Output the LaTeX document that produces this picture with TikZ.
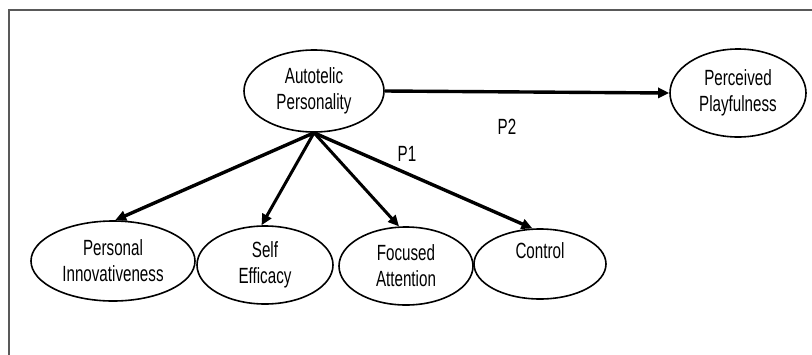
\documentclass[tikz,border=0pt]{standalone}
\usepackage{fontspec}
\setmainfont[FakeStretch=0.69]{Liberation Sans}
\usetikzlibrary{shapes.geometric,arrows.meta}
\tikzset{
  construct/.style={draw, ellipse, line width=1.6pt, inner sep=0pt, align=center,
    font=\fontsize{22}{26}\selectfont},
  path/.style={-{Triangle[length=11pt,width=10pt]}, line width=3.4pt},
  plabel/.style={font=\fontsize{22}{24}\selectfont}
}
\begin{document}
\begin{tikzpicture}[x=1pt, y=-1pt]
\useasboundingbox (0,0) rectangle (812,354);
\draw[line width=2pt, black!65] (9,380) -- (9,10) -- (840,10);
\node[construct, minimum width=140pt, minimum height=82pt] (Auto) at (314,91) {Autotelic\\Personality};
\node[construct, minimum width=136pt, minimum height=88pt] (PP) at (738,93) {Perceived\\Playfulness};
\node[construct, minimum width=164pt, minimum height=80pt] (PI) at (113,261) {Personal\\Innovativeness};
\node[construct, minimum width=136pt, minimum height=78pt] (SE) at (265,265) {Self\\Efficacy};
\node[construct, minimum width=134pt, minimum height=78pt] (FA) at (406,266) {Focused\\Attention};
\node[construct, minimum width=132pt, minimum height=70pt] (Ctrl) at (540,264) {Control\\\phantom{C}};
\draw[path] (Auto.east) -- (PP.west);
\draw[path] (Auto.south) -- (PI.87);
\draw[path, line width=3pt] (Auto.south) -- (SE.95);
\draw[path, line width=3pt] (Auto.south) -- (FA.100);
\draw[path] (Auto.south) -- (Ctrl.102);
\node[plabel] (p1) at (407,154) {P1};
\node[plabel] (p2) at (507,127) {P2};
\end{tikzpicture}
\end{document}
